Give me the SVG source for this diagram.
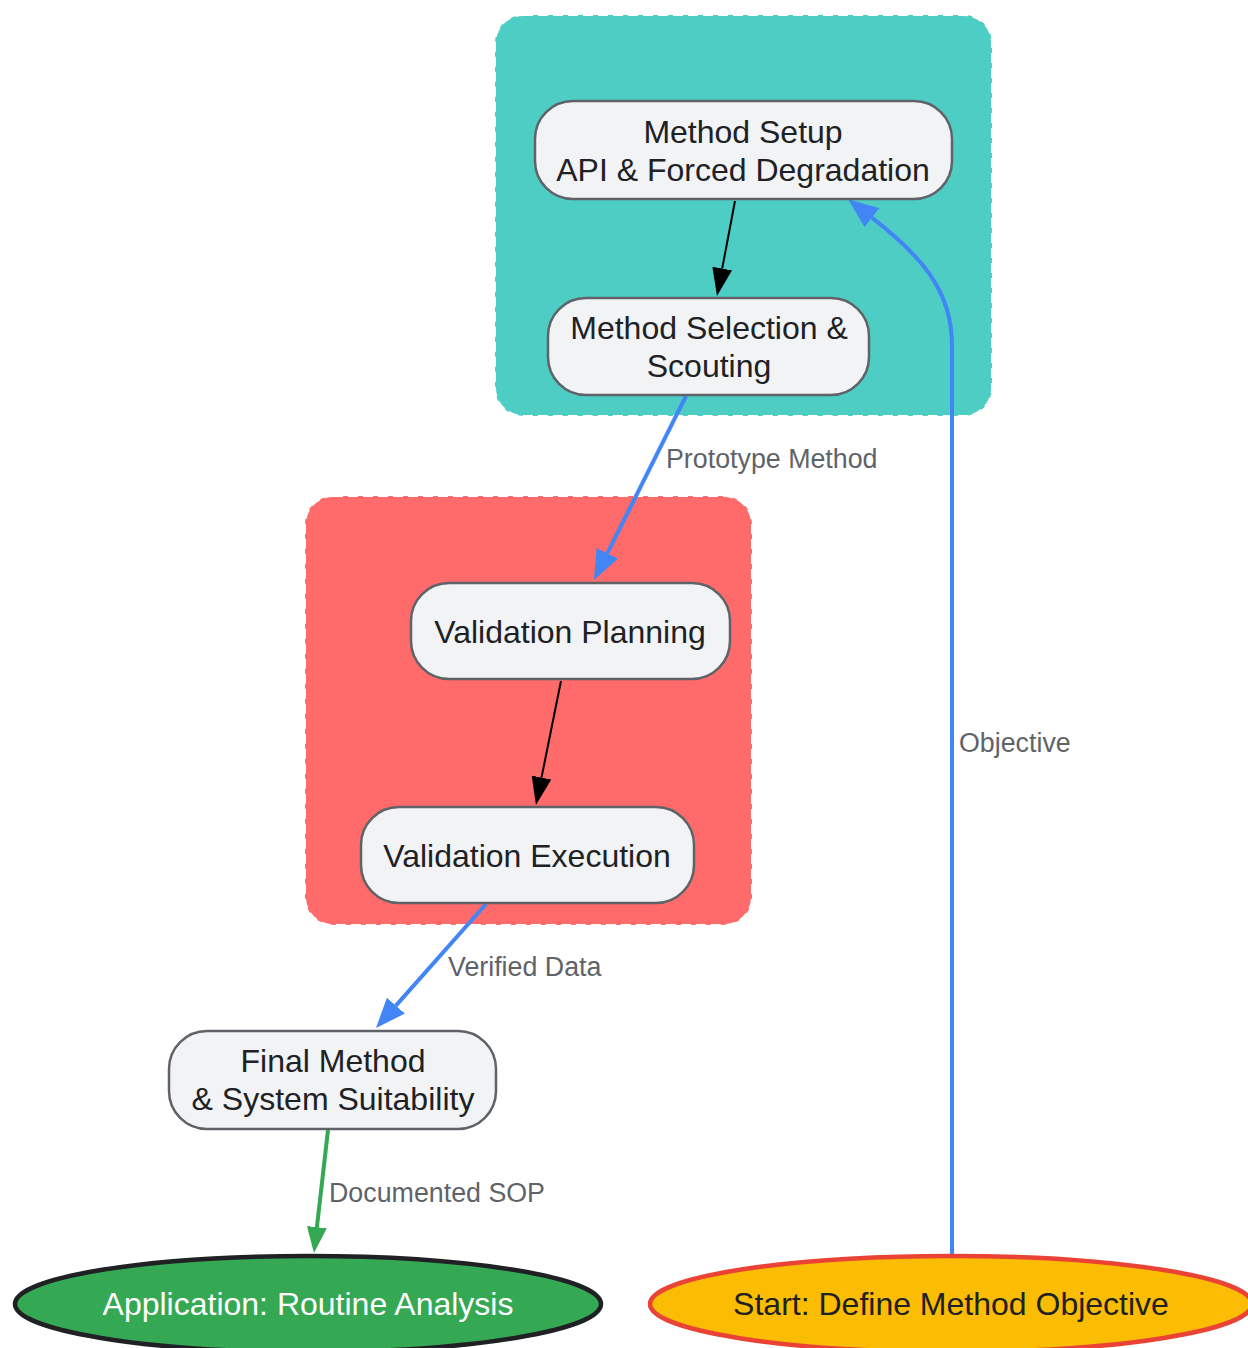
<svg xmlns="http://www.w3.org/2000/svg" width="1248" height="1348" viewBox="0 0 1248 1348">
<style>
.cluster{stroke:#ffffff;stroke-width:2;stroke-dasharray:10,5}
.node rect{fill:#F1F3F5;stroke:#5F6368;stroke-width:2.5}
.nt{font-family:"Liberation Sans",Arial,sans-serif;font-size:32px;fill:#202124;text-anchor:middle}
.el{font-family:"Liberation Sans",Arial,sans-serif;font-size:26.8px;fill:#5F6368}
.blk{fill:none;stroke:#000000;stroke-width:2}
.blu{fill:none;stroke:#4285F4;stroke-width:4}
.grn{fill:none;stroke:#34A853;stroke-width:4}
</style>
<defs>
<marker id="ab" viewBox="0 -11 28 22" markerWidth="28" markerHeight="22" refX="0" refY="0" orient="auto" markerUnits="userSpaceOnUse"><path d="M0,-10 L28,0 L0,10 Z" fill="#000000"/></marker>
<marker id="au" viewBox="0 -13 30 26" markerWidth="30" markerHeight="26" refX="0" refY="0" orient="auto" markerUnits="userSpaceOnUse"><path d="M0,-12 L30,0 L0,12 Z" fill="#4285F4"/></marker>
<marker id="ag" viewBox="0 -11 26 22" markerWidth="26" markerHeight="22" refX="0" refY="0" orient="auto" markerUnits="userSpaceOnUse"><path d="M0,-10 L26,0 L0,10 Z" fill="#34A853"/></marker>
</defs>
<rect width="1248" height="1348" fill="#ffffff"/>
<g id="cluster-dev">
<rect class="cluster" x="495" y="15" width="497" height="401" rx="28" fill="#4ECDC4"/>
</g>
<g id="cluster-val">
<rect class="cluster" x="305" y="496" width="447" height="429" rx="28" fill="#FF6B6B"/>
</g>
<g id="connectors">
<path class="blk" d="M735,201 L722.2,268.5" marker-end="url(#ab)"/>
<path class="blu" d="M686,396 L607.4,553.2" marker-end="url(#au)"/>
<path class="blk" d="M561,681 L541.5,777.6" marker-end="url(#ab)"/>
<path class="blu" d="M486,904 L395.9,1005.6" marker-end="url(#au)"/>
<path class="grn" d="M328,1130 L316.9,1227.2" marker-end="url(#ag)"/>
<path class="blu" d="M952,1256 L952,345 C952,290 920,255 871.9,217.7" marker-end="url(#au)"/>
<text class="el" x="666" y="468">Prototype Method</text>
<text class="el" x="448" y="976">Verified Data</text>
<text class="el" x="329" y="1202">Documented SOP</text>
<text class="el" x="959" y="752">Objective</text>
</g>
<g id="node-setup" class="node">
<rect x="535" y="101" width="417" height="98" rx="38"/>
<text class="nt" x="743" y="143">Method Setup</text>
<text class="nt" x="743" y="181">API &amp; Forced Degradation</text>
</g>
<g id="node-selection" class="node">
<rect x="548" y="298" width="321" height="97" rx="38"/>
<text class="nt" x="709" y="339">Method Selection &amp;</text>
<text class="nt" x="709" y="377">Scouting</text>
</g>
<g id="node-planning" class="node">
<rect x="411" y="583" width="319" height="96" rx="38"/>
<text class="nt" x="570" y="643">Validation Planning</text>
</g>
<g id="node-execution" class="node">
<rect x="361" y="807" width="333" height="96" rx="38"/>
<text class="nt" x="527" y="867">Validation Execution</text>
</g>
<g id="node-final" class="node">
<rect x="169" y="1031" width="327" height="98" rx="38"/>
<text class="nt" x="333" y="1072">Final Method</text>
<text class="nt" x="333" y="1110">&amp; System Suitability</text>
</g>
<g id="node-application">
<ellipse cx="308" cy="1304" rx="293" ry="48" fill="#34A853" stroke="#202124" stroke-width="4.5"/>
<text class="nt" x="308" y="1315" style="fill:#ffffff">Application: Routine Analysis</text>
</g>
<g id="node-start">
<ellipse cx="951" cy="1304" rx="301" ry="48" fill="#FBBC04" stroke="#EA4335" stroke-width="4.5"/>
<text class="nt" x="951" y="1315">Start: Define Method Objective</text>
</g>
</svg>
